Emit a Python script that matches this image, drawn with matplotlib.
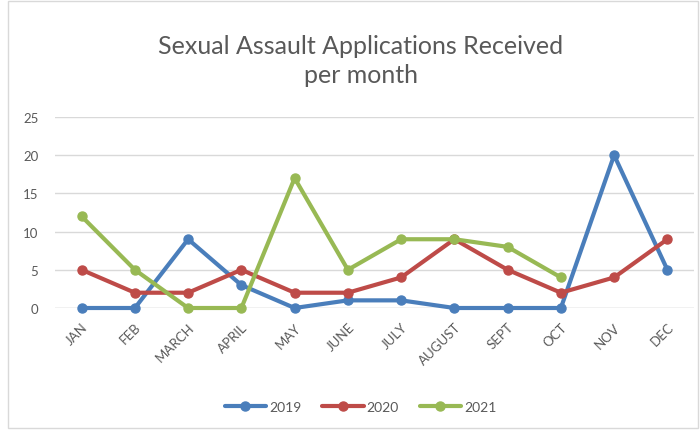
import matplotlib.pyplot as plt
from matplotlib.patches import Rectangle

months = ['JAN', 'FEB', 'MARCH', 'APRIL', 'MAY', 'JUNE', 'JULY', 'AUGUST', 'SEPT', 'OCT', 'NOV', 'DEC']
y2019 = [0, 0, 9, 3, 0, 1, 1, 0, 0, 0, 20, 5]
y2020 = [5, 2, 2, 5, 2, 2, 4, 9, 5, 2, 4, 9]
y2021 = [12, 5, 0, 0, 17, 5, 9, 9, 8, 4]
series = [('2019', y2019, '#4a7ebb'), ('2020', y2020, '#be4b48'), ('2021', y2021, '#98b954')]

plt.rcParams['font.family'] = ['Lato', 'DejaVu Sans']
fig = plt.figure(figsize=(7, 4.31), dpi=100)
fig.patches.append(Rectangle((0.012, 0.005), 0.985, 0.99, transform=fig.transFigure,
                             fill=False, edgecolor='#d9d9d9', linewidth=1))
ax = fig.add_axes([55 / 700, 1 - 309 / 431, 639 / 700, 191 / 431])

for name, vals, col in series:
    ax.plot(range(len(vals)), vals, color=col, linewidth=3, marker='o', markersize=6.5,
            label=name, solid_capstyle='round', clip_on=False, zorder=3)

ax.set_xlim(-0.5, 11.5)
ax.set_ylim(0, 25)
ax.set_yticks(range(0, 26, 5))
ax.set_xticks(range(len(months)))
ax.set_xticklabels(months, rotation=45, ha='right', rotation_mode='anchor')
ax.tick_params(axis='both', length=0, colors='#595959', labelsize=9.5, pad=12)
ax.tick_params(axis='x', pad=9)
ax.grid(axis='y', color='#d9d9d9', linewidth=1)
ax.set_axisbelow(True)
for s in ax.spines.values():
    s.set_visible(False)
ax.axhline(0, color='#d9d9d9', linewidth=1, zorder=0)

fig.text(0.515, 0.858, 'Sexual Assault Applications Received\nper month', ha='center', va='center',
         fontsize=18, color='#595959', linespacing=1.3)
fig.legend(loc='center', bbox_to_anchor=(0.515, 0.053), ncol=3, frameon=False,
           fontsize=10, handlelength=3, columnspacing=1.5, handletextpad=0.2,
           labelcolor='#595959')

fig.savefig('out.png', dpi=100)
